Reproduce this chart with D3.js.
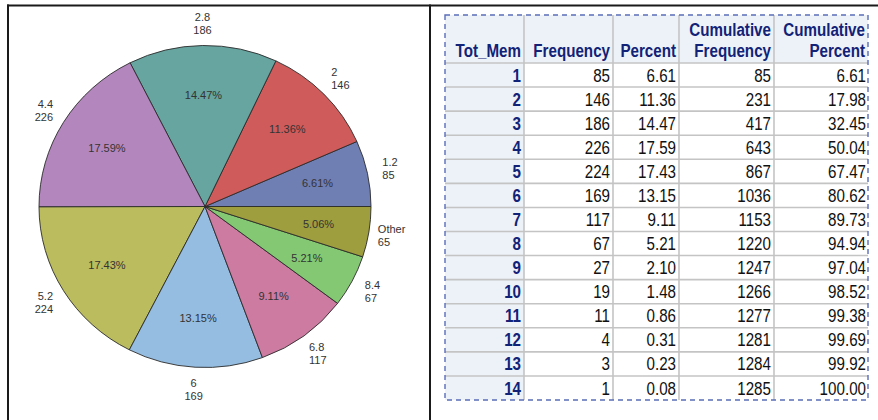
<!DOCTYPE html>
<html>
<head>
<meta charset="utf-8">
<script src="https://cdn.jsdelivr.net/npm/d3@7"></script>
<style>
  html, body { margin: 0; padding: 0; background: #fff; }
  svg { display: block; }
</style>
</head>
<body>
<svg id="chart" width="878" height="420"></svg>
<script>
// ---------- Pie data ----------
const sliceLabels = ["1.2", "2", "2.8", "4.4", "5.2", "6", "6.8", "8.4", "Other"];
const sliceCounts = [85, 146, 186, 226, 224, 169, 117, 67, 65];
const sliceColors = ["#6F7EB3", "#D05B5B", "#66A5A0", "#B387BE", "#BABC5D", "#94BDE1", "#CD7BA1", "#84C873", "#9E9E3E"];

// ---------- Table data ----------
const tableHeaders = [["", "Tot_Mem"], ["", "Frequency"], ["", "Percent"], ["Cumulative", "Frequency"], ["Cumulative", "Percent"]];
const totMem = [1, 2, 3, 4, 5, 6, 7, 8, 9, 10, 11, 12, 13, 14];
const frequency = [85, 146, 186, 226, 224, 169, 117, 67, 27, 19, 11, 4, 3, 1];
const percent = [6.61, 11.36, 14.47, 17.59, 17.43, 13.15, 9.11, 5.21, 2.10, 1.48, 0.86, 0.31, 0.23, 0.08];
const cumFreq = [85, 231, 417, 643, 867, 1036, 1153, 1220, 1247, 1266, 1277, 1281, 1284, 1285];
const cumPct = [6.61, 17.98, 32.45, 50.04, 67.47, 80.62, 89.73, 94.94, 97.04, 98.52, 99.38, 99.69, 99.92, 100.00];

const svg = d3.select("#chart");
const sansFont = "'Liberation Sans', Arial, Helvetica, sans-serif";

// ---------- Frame (cropped document table lines) ----------
const frame = svg.append("g").attr("stroke", "#1a1a1a").attr("stroke-width", 2);
frame.append("line").attr("x1", 7).attr("x2", 878).attr("y1", 5.5).attr("y2", 5.5);
frame.append("line").attr("x1", 8).attr("x2", 8).attr("y1", 4.5).attr("y2", 420);
frame.append("line").attr("x1", 430).attr("x2", 430).attr("y1", 4.5).attr("y2", 420);

// ---------- Pie ----------
const cx = 205, cy = 206.5, R = 166, yScale = 0.97;
const total = d3.sum(sliceCounts);
const pie = d3.pie().sort(null).value(d => d)
  .startAngle(Math.PI / 2).endAngle(Math.PI / 2 - 2 * Math.PI);
const arcs = pie(sliceCounts);
const arc = d3.arc().innerRadius(0).outerRadius(R);
const pctFmt = d3.format(".2f");

const pieG = svg.append("g").attr("transform", `translate(${cx},${cy}) scale(1,${yScale})`);
pieG.selectAll("path").data(arcs).join("path")
  .attr("d", arc)
  .attr("fill", (d, i) => sliceColors[i])
  .attr("stroke", "#2a2a2a")
  .attr("stroke-width", 0.9)
  .attr("vector-effect", "non-scaling-stroke");

// inner percent labels
const innerArc = d3.arc().innerRadius(115).outerRadius(115);
svg.append("g").selectAll("text").data(arcs).join("text")
  .attr("x", d => cx + innerArc.centroid(d)[0])
  .attr("y", d => cy + innerArc.centroid(d)[1] * yScale + 4)
  .attr("text-anchor", "middle")
  .attr("font-family", sansFont)
  .attr("font-size", 11)
  .attr("fill", "#333")
  .text(d => pctFmt(d.value / total * 100) + "%");

// outer labels
const outerArc = d3.arc().innerRadius(189).outerRadius(189);
const outerG = svg.append("g").attr("font-family", sansFont).attr("font-size", 11).attr("fill", "#333");
arcs.forEach((d, i) => {
  const [ox, oy] = outerArc.centroid(d);
  const bx = cx + ox, by = cy + oy * yScale;
  const mid = (d.startAngle + d.endAngle) / 2;
  const s = Math.sin(mid); // >0 right side in d3 angle convention
  const t = outerG.append("text");
  const l1 = t.append("tspan").text(sliceLabels[i]);
  const l2 = t.append("tspan").text(String(sliceCounts[i]));
  const w1 = l1.node().getComputedTextLength();
  const w2 = l2.node().getComputedTextLength();
  const w = Math.max(w1, w2);
  let x1, x2;
  if (Math.abs(s) < 0.3) { x1 = bx - w1 / 2; x2 = bx - w2 / 2; }
  else if (s > 0) { x1 = bx - w / 2; x2 = bx - w / 2; }
  else { x1 = bx + w / 2 - w1; x2 = bx + w / 2 - w2; }
  l1.attr("x", x1).attr("y", by - 2.5);
  l2.attr("x", x2).attr("y", by + 10.5);
});

// ---------- Table ----------
function hasFont(f) {
  const c = document.createElement("canvas").getContext("2d");
  c.font = "20px monospace";
  const a = c.measureText("Frequency 1234").width;
  c.font = `20px "${f}", monospace`;
  const b = c.measureText("Frequency 1234").width;
  return Math.abs(a - b) > 0.5;
}
const narrow = hasFont("Liberation Sans Narrow");
const tFont = narrow ? "'Liberation Sans Narrow', 'Arial Narrow', sans-serif" : sansFont;
const sx = narrow ? 1 : 0.82;
const tSize = 18.5;

const tableLeft = 445, tableRight = 868, headTop = 15, headBottom = 63, tableBottom = 400;
const colWidths = [79, 89, 66, 95, 94];
const colEdges = [tableLeft];
colWidths.forEach(w => colEdges.push(colEdges[colEdges.length - 1] + w));
colEdges[colEdges.length - 1] = tableRight;

const rowScale = d3.scaleBand().domain(d3.range(totMem.length)).range([headBottom, tableBottom]).padding(0);

const tbl = svg.append("g");
// backgrounds
tbl.append("rect").attr("x", tableLeft).attr("y", headTop).attr("width", tableRight - tableLeft).attr("height", headBottom - headTop).attr("fill", "#EDF2F9");
tbl.append("rect").attr("x", tableLeft).attr("y", headBottom).attr("width", colEdges[1] - tableLeft).attr("height", tableBottom - headBottom).attr("fill", "#EDF2F9");

// grid lines
const grid = tbl.append("g").attr("stroke", "#C4C4C4").attr("stroke-width", 1.6);
d3.range(totMem.length).forEach(i => {
  grid.append("line").attr("x1", tableLeft).attr("x2", tableRight)
    .attr("y1", rowScale(i)).attr("y2", rowScale(i));
});
colEdges.slice(1, -1).forEach(x => {
  grid.append("line").attr("x1", x).attr("x2", x).attr("y1", headTop).attr("y2", tableBottom);
});

// dashed outer border
tbl.append("rect").attr("x", tableLeft).attr("y", headTop)
  .attr("width", tableRight - tableLeft).attr("height", tableBottom - headTop)
  .attr("fill", "none").attr("stroke", "#5B6DB8").attr("stroke-width", 1.4)
  .attr("stroke-dasharray", "5,4");

function cellText(xRight, y, str, bold, color) {
  tbl.append("g").attr("transform", `translate(${xRight},${y}) scale(${sx},1)`)
    .append("text")
    .attr("text-anchor", "end")
    .attr("font-family", tFont)
    .attr("font-size", tSize)
    .attr("font-weight", bold ? "bold" : "normal")
    .attr("fill", color)
    .text(str);
}

// header
tableHeaders.forEach((h, j) => {
  const xr = colEdges[j + 1] - 3;
  if (h[0]) cellText(xr, 35.5, h[0], true, "#112277");
  cellText(xr, 57, h[1], true, "#112277");
});

// rows
const f2 = d3.format(".2f");
totMem.forEach((v, i) => {
  const y = rowScale(i) + rowScale.bandwidth() / 2 + 6.6;
  cellText(colEdges[1] - 3, y, String(v), true, "#112277");
  cellText(colEdges[2] - 3, y, String(frequency[i]), false, "#111");
  cellText(colEdges[3] - 3, y, f2(percent[i]), false, "#111");
  cellText(colEdges[4] - 3, y, String(cumFreq[i]), false, "#111");
  cellText(colEdges[5] - 2, y, f2(cumPct[i]), false, "#111");
});
</script>
</body>
</html>
